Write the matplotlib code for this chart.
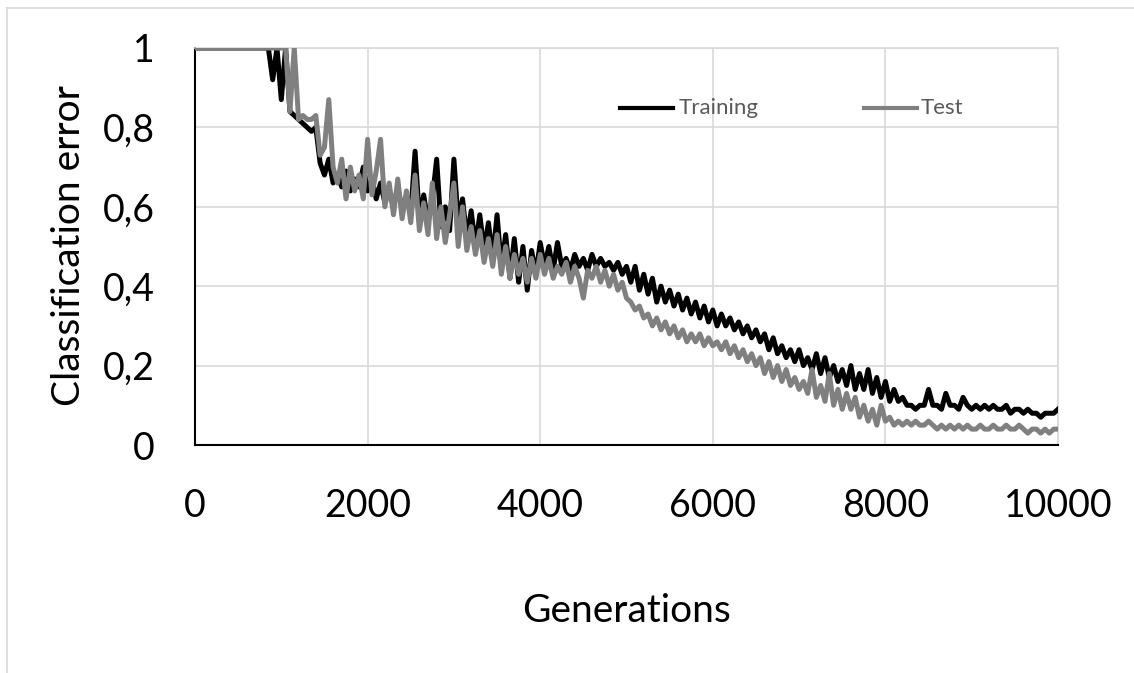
import numpy as np
import matplotlib
matplotlib.use('Agg')
from matplotlib import pyplot as plt
from matplotlib.lines import Line2D

# generations sampled every 50 (0 .. 10000)
generations = list(range(0, 10001, 50))

training = [
    1.0, 1.0, 1.0, 1.0, 1.0, 1.0, 1.0, 1.0, 1.0, 1.0,
    1.0, 1.0, 1.0, 1.0, 1.0, 1.0, 1.0, 1.0, 0.92, 1.0,
    0.87, 1.0, 0.84, 0.83, 0.82, 0.81, 0.80, 0.79, 0.80, 0.71,
    0.68, 0.72, 0.66, 0.68, 0.65, 0.69, 0.64, 0.67, 0.65, 0.70,
    0.64, 0.67, 0.62, 0.66, 0.61, 0.64, 0.60, 0.65, 0.59, 0.63,
    0.58, 0.74, 0.57, 0.63, 0.56, 0.62, 0.72, 0.55, 0.60, 0.54,
    0.72, 0.56, 0.62, 0.52, 0.59, 0.50, 0.58, 0.49, 0.56, 0.47,
    0.58, 0.45, 0.53, 0.42, 0.52, 0.41, 0.50, 0.39, 0.49, 0.43,
    0.51, 0.45, 0.50, 0.44, 0.51, 0.45, 0.47, 0.44, 0.48, 0.45,
    0.47, 0.44, 0.48, 0.45, 0.47, 0.45, 0.46, 0.44, 0.46, 0.43,
    0.45, 0.41, 0.45, 0.39, 0.43, 0.38, 0.42, 0.36, 0.40, 0.36,
    0.39, 0.35, 0.38, 0.34, 0.37, 0.33, 0.36, 0.32, 0.35, 0.31,
    0.34, 0.30, 0.33, 0.30, 0.32, 0.29, 0.31, 0.28, 0.30, 0.27,
    0.29, 0.26, 0.28, 0.24, 0.27, 0.23, 0.25, 0.22, 0.24, 0.21,
    0.24, 0.20, 0.22, 0.19, 0.23, 0.18, 0.22, 0.17, 0.20, 0.16,
    0.19, 0.15, 0.20, 0.14, 0.18, 0.14, 0.19, 0.13, 0.17, 0.12,
    0.16, 0.11, 0.14, 0.11, 0.12, 0.10, 0.10, 0.09, 0.10, 0.10,
    0.14, 0.10, 0.10, 0.09, 0.13, 0.10, 0.10, 0.09, 0.12, 0.10,
    0.09, 0.10, 0.09, 0.10, 0.09, 0.10, 0.09, 0.09, 0.10, 0.08,
    0.09, 0.09, 0.08, 0.09, 0.08, 0.08, 0.07, 0.08, 0.08, 0.08,
    0.09,
]

test = [
    1.0, 1.0, 1.0, 1.0, 1.0, 1.0, 1.0, 1.0, 1.0, 1.0,
    1.0, 1.0, 1.0, 1.0, 1.0, 1.0, 1.0, 1.0, 1.0, 1.0,
    1.0, 1.0, 0.84, 1.0, 0.82, 0.83, 0.82, 0.82, 0.83, 0.73,
    0.75, 0.87, 0.70, 0.66, 0.72, 0.62, 0.70, 0.64, 0.68, 0.62,
    0.77, 0.63, 0.69, 0.77, 0.60, 0.66, 0.58, 0.67, 0.57, 0.64,
    0.56, 0.68, 0.54, 0.61, 0.53, 0.66, 0.52, 0.60, 0.51, 0.58,
    0.66, 0.50, 0.60, 0.49, 0.55, 0.48, 0.54, 0.46, 0.52, 0.45,
    0.53, 0.43, 0.50, 0.42, 0.48, 0.43, 0.47, 0.41, 0.47, 0.42,
    0.48, 0.43, 0.47, 0.42, 0.45, 0.43, 0.46, 0.41, 0.45, 0.42,
    0.37, 0.44, 0.42, 0.45, 0.41, 0.44, 0.40, 0.43, 0.39, 0.41,
    0.37, 0.36, 0.34, 0.35, 0.32, 0.33, 0.30, 0.32, 0.29, 0.31,
    0.28, 0.30, 0.27, 0.29, 0.26, 0.28, 0.26, 0.28, 0.25, 0.27,
    0.25, 0.26, 0.24, 0.26, 0.23, 0.25, 0.22, 0.24, 0.21, 0.23,
    0.20, 0.22, 0.18, 0.21, 0.17, 0.20, 0.16, 0.19, 0.15, 0.17,
    0.14, 0.16, 0.13, 0.19, 0.12, 0.15, 0.11, 0.18, 0.10, 0.14,
    0.09, 0.13, 0.09, 0.12, 0.07, 0.10, 0.06, 0.09, 0.05, 0.10,
    0.06, 0.07, 0.05, 0.06, 0.05, 0.06, 0.05, 0.06, 0.05, 0.05,
    0.06, 0.05, 0.04, 0.05, 0.04, 0.05, 0.04, 0.05, 0.04, 0.05,
    0.04, 0.04, 0.05, 0.04, 0.04, 0.05, 0.04, 0.04, 0.05, 0.04,
    0.04, 0.05, 0.04, 0.03, 0.04, 0.04, 0.03, 0.04, 0.03, 0.04,
    0.04,
]

x_ticks = [0, 2000, 4000, 6000, 8000, 10000]
y_ticks = [0, 0.2, 0.4, 0.6, 0.8, 1]
y_tick_labels = ['0', '0,2', '0,4', '0,6', '0,8', '1']

assert len(training) == len(generations)
assert len(test) == len(generations)

plt.rcParams['font.family'] = ['Lato', 'DejaVu Sans']

W, H = 1134, 673
fig = plt.figure(figsize=[W / 100, H / 100], dpi=100)
ax = fig.add_axes([195 / W, 1 - 445 / H, (1058 - 195) / W, (445 - 48) / H])

ax.plot(generations, training, color='black', lw=3.6, solid_joinstyle='round', zorder=3)
ax.plot(generations, test, color='#808080', lw=3.6, solid_joinstyle='round', zorder=4)

ax.set_xlim(0, 10000)
ax.set_ylim(0, 1)
ax.set_xticks(x_ticks)
ax.set_xticklabels([str(t) for t in x_ticks], fontsize=27)
ax.set_yticks(y_ticks)
ax.set_yticklabels(y_tick_labels, fontsize=27)
ax.tick_params(length=0, pad=29)
ax.xaxis.set_tick_params(pad=31)
ax.grid(True, color='#d9d9d9', lw=1.2, zorder=0)
ax.set_axisbelow(True)
for side in ['top', 'right']:
    ax.spines[side].set_color('#d9d9d9')
    ax.spines[side].set_linewidth(1.2)
for side in ['left', 'bottom']:
    ax.spines[side].set_color('black')
    ax.spines[side].set_linewidth(1.5)

# axis titles
fig.text(69 / W, 1 - 246 / H, 'Classification error', rotation=90, fontsize=28,
         ha='center', va='center')
fig.text(626 / W, 1 - 611 / H, 'Generations', fontsize=28, ha='center', va='center')

# legend drawn by hand, as in the original sheet
fig.add_artist(Line2D([620 / W, 673 / W], [1 - 108 / H, 1 - 108 / H], color='black', lw=3))
fig.text(679 / W, 1 - 108 / H, 'Training', fontsize=16, color='#595959', va='center')
fig.add_artist(Line2D([864 / W, 917 / W], [1 - 108 / H, 1 - 108 / H], color='#808080', lw=3))
fig.text(921 / W, 1 - 108 / H, 'Test', fontsize=16, color='#595959', va='center')

# chart frame
fig.add_artist(Line2D([7 / W, 1], [1 - 8 / H, 1 - 8 / H], color='#d9d9d9', lw=1.2))
fig.add_artist(Line2D([7 / W, 7 / W], [0, 1 - 8 / H], color='#d9d9d9', lw=1.2))

fig.savefig('out.png', dpi=100)
plt.close()
